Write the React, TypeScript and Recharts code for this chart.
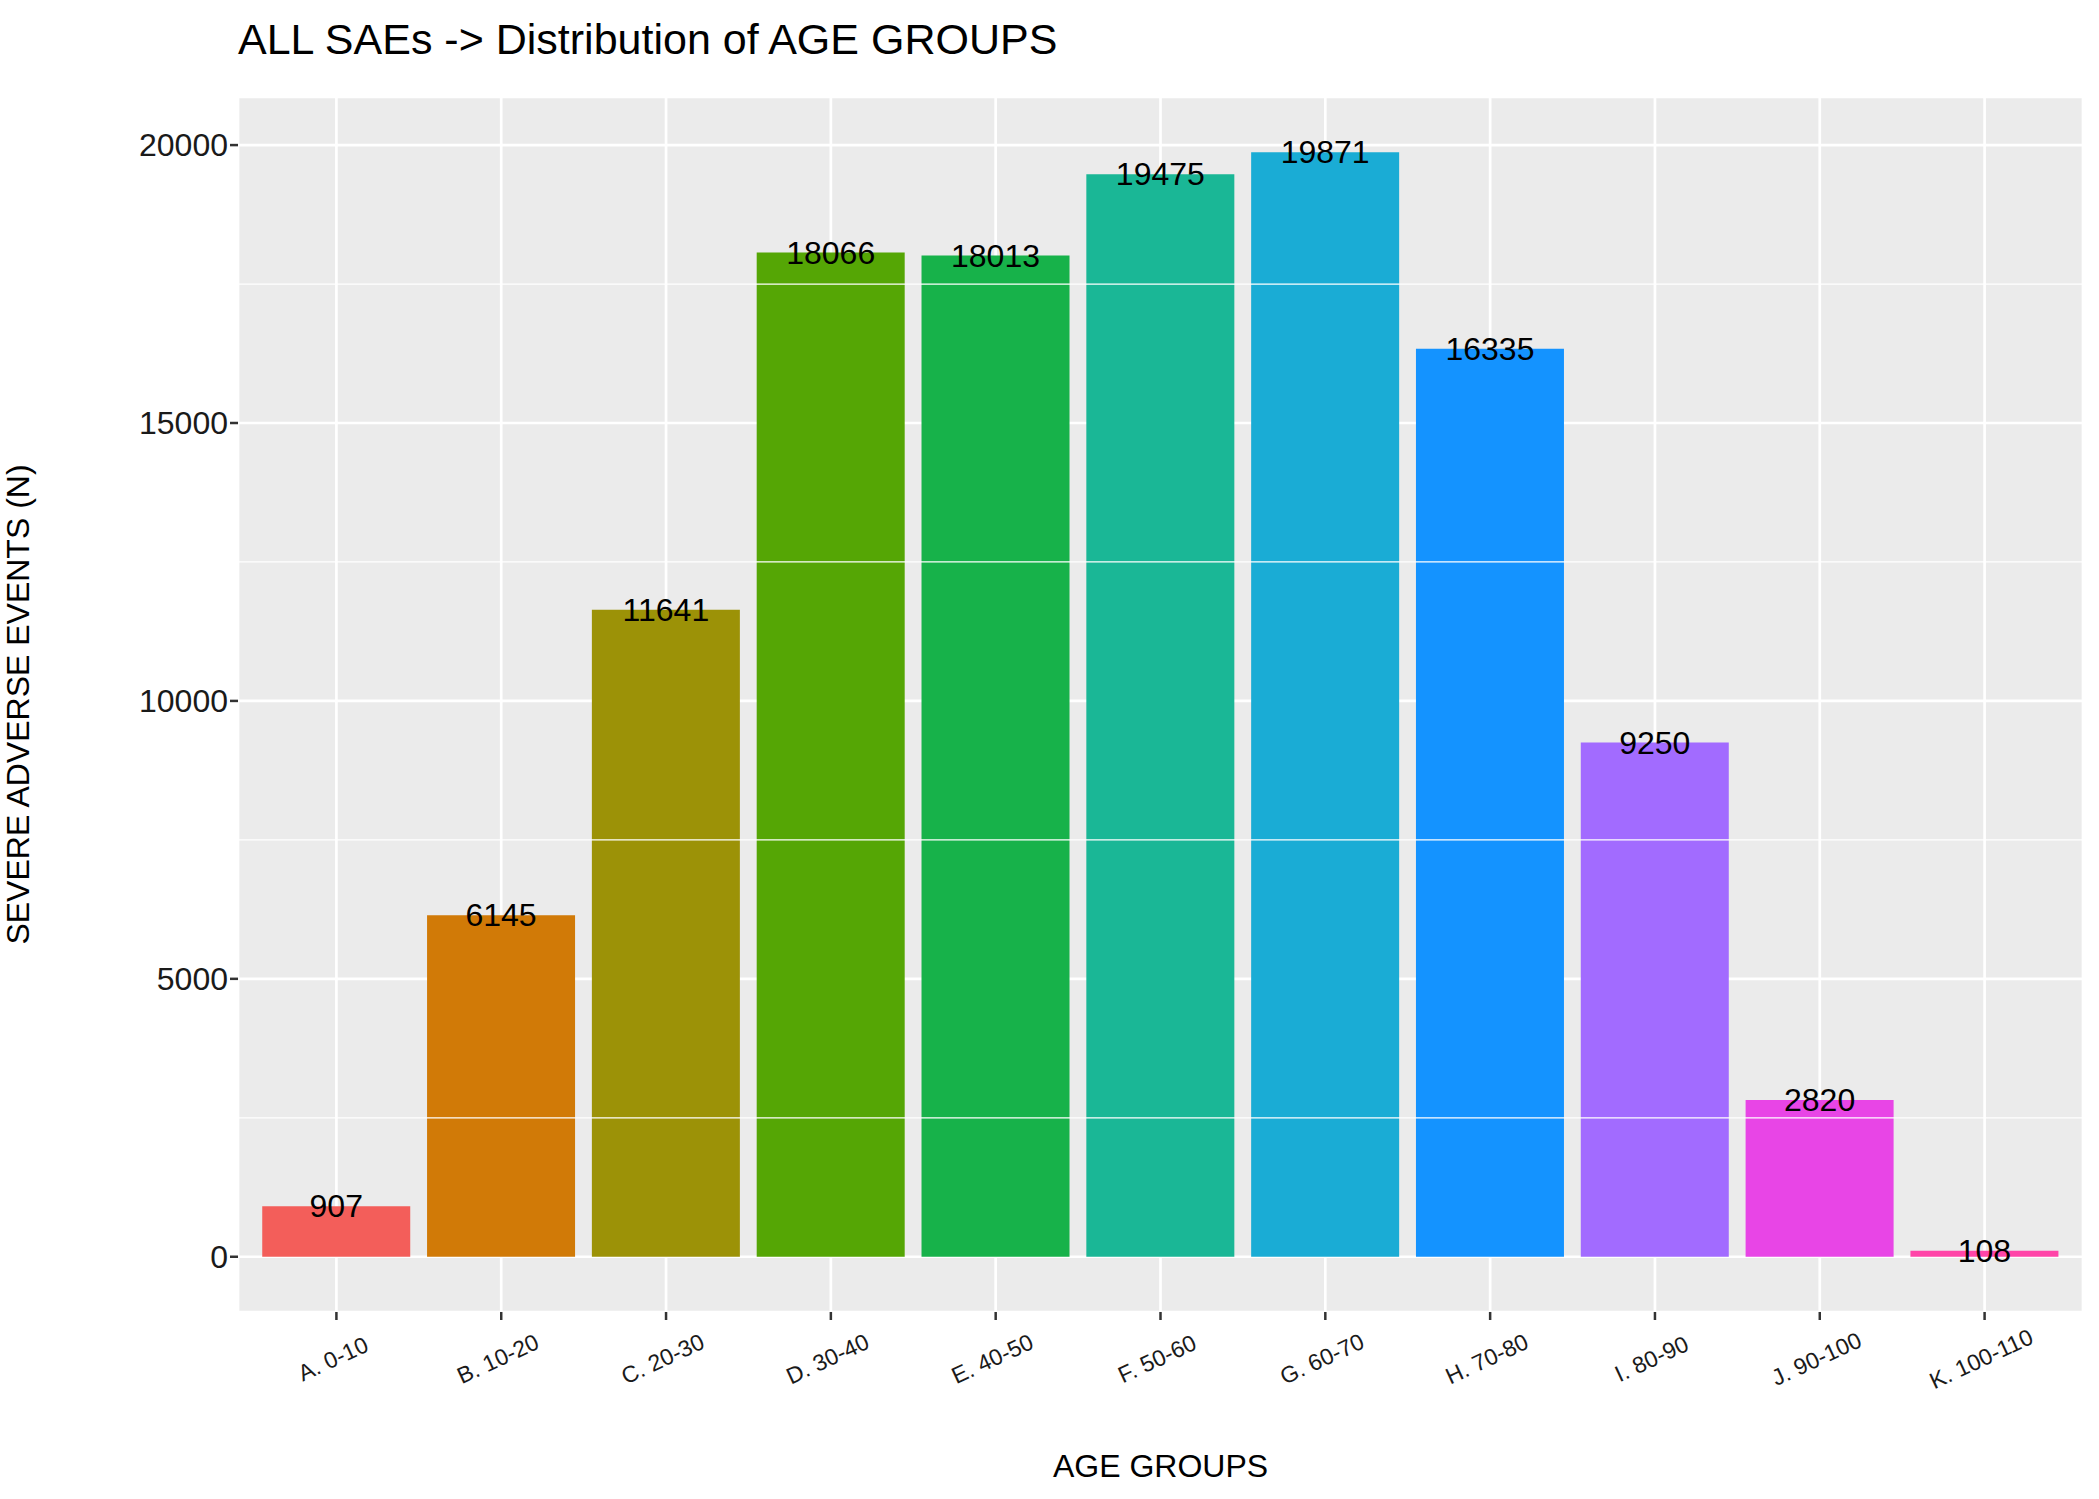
import React from "react";
import { Bar, BarChart, CartesianGrid, Cell, LabelList, ReferenceLine, XAxis, YAxis } from "recharts";

const AGE_GROUPS = ["A. 0-10", "B. 10-20", "C. 20-30", "D. 30-40", "E. 40-50", "F. 50-60", "G. 60-70", "H. 70-80", "I. 80-90", "J. 90-100", "K. 100-110"];
const EVENTS = [907, 6145, 11641, 18066, 18013, 19475, 19871, 16335, 9250, 2820, 108];
const COLORS = ["#F35E5A", "#D17A07", "#9C9207", "#55A605", "#17B24A", "#1AB796", "#1AACD5", "#1493FF", "#A26BFF", "#E845E6", "#FF45A8"];
const MAJOR_TICKS = [0, 5000, 10000, 15000, 20000];
const MINOR_TICKS = [2500, 7500, 12500, 17500];

const FONT = "'Liberation Sans', Arial, sans-serif";

const data = AGE_GROUPS.map((group, i) => ({ group, n: EVENTS[i] }));

const XTick = (props: any) => {
  const { x, y, payload } = props;
  return (
    <text
      x={x}
      y={y + 44}
      transform={`rotate(-25 ${x} ${y + 44})`}
      textAnchor="middle"
      fontSize={23}
      fontFamily={FONT}
      fill="#1a1a1a"
    >
      {payload.value}
    </text>
  );
};

const ValueLabel = (props: any) => {
  const { x, y, width, value } = props;
  return (
    <text
      x={x + width / 2}
      y={y}
      dy={11}
      textAnchor="middle"
      fontSize={32}
      fontFamily={FONT}
      fill="#000"
    >
      {value}
    </text>
  );
};

export default function App() {
  return (
    <div style={{ position: "absolute", left: 0, top: 0, width: 2099, height: 1499, background: "#fff", fontFamily: FONT }}>
      <div style={{ position: "absolute", left: 238, top: 18, fontSize: 43, lineHeight: 1, color: "#000" }}>
        ALL SAEs -&gt; Distribution of AGE GROUPS
      </div>
      <BarChart
        width={2099}
        height={1499}
        data={data}
        margin={{ top: 97, right: 16, bottom: 0, left: 88 }}
        barCategoryGap="5%"
      >
        <CartesianGrid fill="#EBEBEB" stroke="#fff" strokeWidth={2.7} />
        {MINOR_TICKS.map((v) => (
          <ReferenceLine key={v} y={v} stroke="#fff" strokeWidth={1.3} />
        ))}
        <XAxis
          dataKey="group"
          height={187}
          padding={{ left: 16, right: 16 }}
          axisLine={false}
          tickLine={{ stroke: "#333", strokeWidth: 2.5 }}
          tickSize={8}
          tick={<XTick />}
          interval={0}
          label={{ value: "AGE GROUPS", position: "insideBottom", offset: 22, fontSize: 32, fill: "#000", fontFamily: FONT }}
        />
        <YAxis
          width={150}
          domain={[-994, 20865]}
          ticks={MAJOR_TICKS}
          axisLine={false}
          tickLine={{ stroke: "#333", strokeWidth: 2.5 }}
          tickSize={8}
          tick={{ fontSize: 32, fill: "#1a1a1a", fontFamily: FONT }}
          label={{
            value: "SEVERE ADVERSE EVENTS (N)",
            angle: -90,
            position: "insideLeft",
            offset: -70,
            dy: 0,
            style: { textAnchor: "middle" },
            fontSize: 32,
            fill: "#000",
            fontFamily: FONT
          }}
        />
        <Bar dataKey="n" isAnimationActive={false}>
          {data.map((_, i) => (
            <Cell key={i} fill={COLORS[i]} />
          ))}
          <LabelList dataKey="n" content={<ValueLabel />} />
        </Bar>
      </BarChart>
    </div>
  );
}
